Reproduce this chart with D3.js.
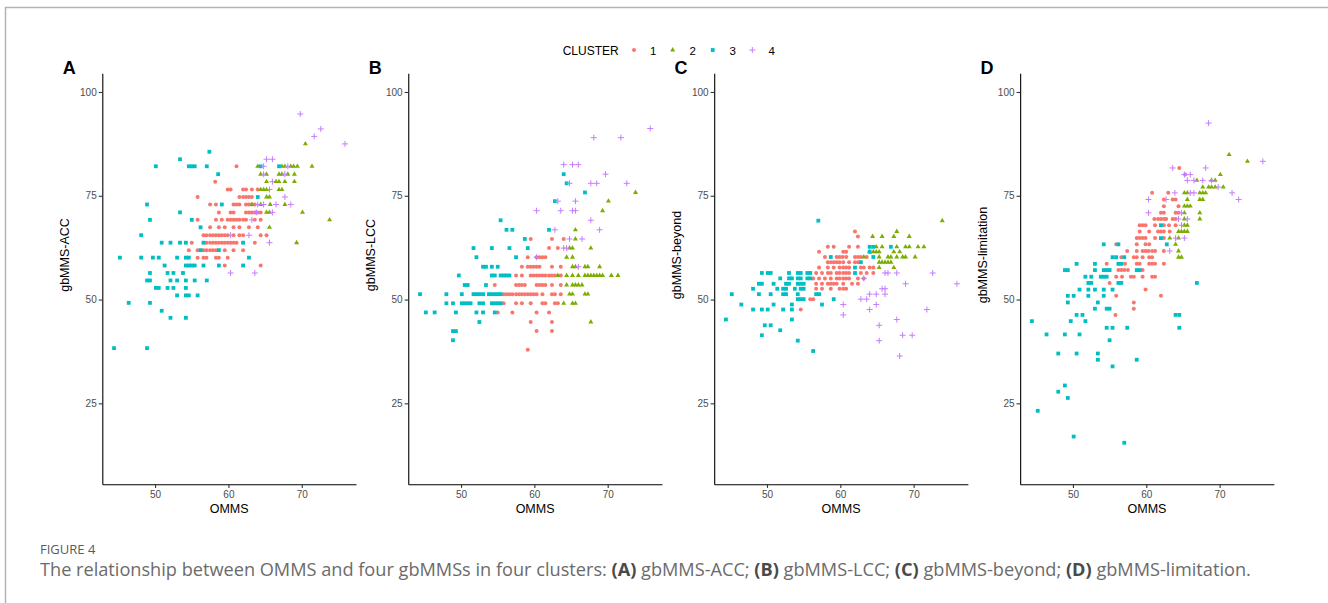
<!DOCTYPE html>
<html>
<head>
<meta charset="utf-8">
<script src="https://cdn.jsdelivr.net/npm/d3@7"></script>
<style>
  html, body { margin: 0; padding: 0; background: #fff; }
  svg { display: block; }
</style>
</head>
<body>
<svg id="chart" width="1328" height="603"></svg>
<script>
// ---------------- DATA (rows: [gbMMS value, [OMMS values...]]) ----------------
const clusters = ["1", "2", "3", "4"];
const clusterColors = ["#F8766D", "#7CAE00", "#00BFC4", "#C77CFF"];
const panelLetters = ["A", "B", "C", "D"];
const yTitles = ["gbMMS-ACC", "gbMMS-LCC", "gbMMS-beyond", "gbMMS-limitation"];
const xTicks = [50, 60, 70];
const yTicks = [25, 50, 75, 100];

// Panel A: gbMMS-ACC
const accC1 = [
  [82.1, [61.1]], [78.4, [58.2]],
  [76.5, [59.9, 60.3, 62.0, 62.4, 63.2, 64.0]],
  [74.7, [55.8, 61.5, 62.0, 62.4, 62.8, 63.2]],
  [72.9, [57.5, 58.3, 60.7, 61.1, 61.5, 62.4, 62.8, 63.2, 63.6]],
  [71.0, [58.7, 60.3, 60.7, 62.4, 62.8, 63.2, 63.6, 64.0, 64.4]],
  [69.2, [55.8, 58.3, 59.1, 59.9, 60.3, 60.7, 61.1, 61.5, 62.0, 62.4, 63.6, 64.4]],
  [67.4, [57.5, 58.7, 59.5, 60.7, 61.5, 62.8, 64.0]],
  [65.5, [56.6, 57.0, 57.5, 57.9, 58.3, 58.7, 59.1, 59.5, 59.9, 60.7, 61.5, 62.0, 64.4, 65.2]],
  [63.7, [55.0, 57.0, 57.5, 57.9, 58.3, 58.7, 59.1, 59.5, 59.9, 60.3, 60.7, 61.1, 63.6]],
  [61.9, [54.6, 55.8, 56.6, 57.0, 57.5, 57.9, 58.3, 59.5, 60.7, 62.0]],
  [60.1, [55.8, 56.6, 57.0, 58.3, 58.7, 59.9]],
  [58.2, [59.5, 64.4]]
];
const accC2 = [
  [87.5, [70.5]],
  [82.1, [64.0, 67.3, 67.7, 68.5, 68.9, 69.4, 71.4]],
  [80.2, [64.4, 65.2, 66.9, 67.3, 68.1, 69.0]],
  [78.4, [65.2, 66.5, 66.9, 67.7, 69.0]],
  [76.5, [64.4, 64.8, 65.2, 66.9, 67.3]],
  [74.7, [65.2, 65.6]],
  [72.9, [63.2, 64.4, 65.7, 67.7]],
  [71.0, [65.2, 65.6, 70.1]],
  [69.2, [73.8]], [67.4, [65.6]], [63.7, [69.3]]
];
const accC3 = [
  [85.6, [57.4]], [83.8, [53.4]],
  [82.1, [50.1, 54.6, 55.0, 55.4, 57.05, 64.4, 66.9]],
  [80.2, [58.6]], [74.7, [64.0]], [72.9, [48.9, 59.1]], [71.0, [53.4]],
  [69.2, [49.3, 55.0]], [67.4, [56.2]], [65.5, [48.1]],
  [63.7, [50.9, 52.1, 53.4, 54.2, 56.6, 62.0]],
  [61.9, [56.2, 58.7]],
  [60.1, [45.2, 48.1, 49.7, 50.5, 53.0, 54.2, 54.6, 62.8]],
  [58.2, [51.3, 54.2, 54.6, 55.0, 55.4, 56.6, 58.7, 62.0]],
  [56.4, [49.3, 51.7, 52.5, 53.8]],
  [54.6, [48.9, 49.3, 52.1, 53.0, 54.2, 55.4, 57.05]],
  [52.8, [50.1, 50.5, 51.7, 52.5, 54.2]],
  [51.0, [53.0, 54.2, 54.6, 55.8]],
  [49.2, [46.4, 49.3]], [47.3, [50.9]], [45.6, [52.1, 54.2]], [38.3, [44.4, 48.9]]
];
const accC4 = [
  [94.7, [69.8]], [91.1, [72.6]], [89.3, [71.7]], [87.5, [75.9]],
  [83.8, [65.2, 66.0]], [82.1, [64.8, 68.1]], [80.2, [64.8, 67.7]],
  [78.4, [66.0]], [76.5, [65.6]], [74.7, [67.7]],
  [72.9, [64.0, 64.8, 66.5, 68.5]], [71.0, [63.8, 66.0]], [69.2, [63.2]],
  [65.5, [60.3, 62.8]], [63.7, [65.6]], [56.4, [60.3, 63.6]]
];

// Panel B: gbMMS-LCC
const lccC1 = [
  [64.6, [59.5, 62.4, 64.0]], [62.4, [62.0, 63.2]],
  [60.2, [59.1, 60.3, 60.7, 61.1, 61.5]],
  [57.9, [58.3, 59.1, 59.5, 59.9, 60.3, 60.7, 62.4, 63.6]],
  [55.8, [57.5, 58.3, 59.5, 59.9, 60.3, 60.7, 61.1, 61.5, 62.0, 62.4, 62.8, 63.6]],
  [53.5, [54.6, 57.5, 57.9, 58.3, 58.7, 60.3, 60.7, 61.1, 61.5, 62.4, 63.6]],
  [51.3, [55.8, 56.2, 56.6, 57.0, 57.5, 57.9, 58.3, 58.7, 59.1, 59.5, 59.9, 60.3, 61.1, 62.4, 62.8, 63.6]],
  [49.1, [55.8, 57.5, 58.3, 59.5, 61.1, 61.5, 62.8, 63.2]],
  [46.9, [55.0, 57.0, 60.3, 62.0]],
  [44.6, [59.5, 62.4]], [42.4, [60.3, 62.4]], [37.9, [59.1]]
];
const lccC2 = [
  [75.8, [73.8]], [73.7, [70.1]], [71.4, [69.3]], [66.8, [65.6]], [64.6, [65.6]],
  [62.4, [64.8, 65.2, 67.7]], [60.2, [64.4, 65.2]],
  [57.9, [65.2, 65.6, 66.9, 67.3, 68.9]],
  [55.8, [63.2, 64.4, 65.2, 66.0, 66.9, 67.3, 67.7, 68.1, 68.5, 68.9, 69.3, 70.5, 71.4]],
  [53.5, [64.4, 65.2, 65.6, 66.0, 66.5]],
  [51.3, [64.8, 65.2, 66.9, 67.3]],
  [49.1, [64.0, 65.2, 65.6]], [44.6, [67.7]]
];
const lccC3 = [
  [80.2, [64.0]], [78.0, [64.4]], [75.8, [66.9]], [73.7, [62.8]], [69.1, [55.4]],
  [66.8, [56.2, 57.0, 62.0]], [64.6, [58.7]],
  [62.4, [51.7, 54.2, 56.6, 59.1]], [60.2, [52.1, 57.5]],
  [57.9, [53.0, 53.4, 54.2, 55.0]],
  [55.8, [49.7, 54.2, 54.6, 55.4, 55.8, 56.2, 56.6]],
  [53.5, [50.5, 50.9, 53.4]],
  [51.3, [44.4, 48.0, 50.1, 51.7, 52.1, 52.5, 53.0, 53.8, 54.2, 54.6, 55.0, 55.4]],
  [49.1, [48.0, 48.9, 50.1, 50.5, 50.9, 51.3, 52.5, 53.0, 54.2, 54.6, 55.0, 55.4]],
  [46.9, [45.2, 46.4, 49.3, 52.1, 53.0, 54.6]],
  [44.6, [52.5]], [42.4, [48.9, 49.3]], [40.2, [48.9]]
];
const lccC4 = [
  [91.2, [75.8]], [89.0, [68.1, 71.8]], [82.5, [64.0, 65.2, 66.0]], [80.2, [69.7]],
  [78.0, [64.8, 67.7, 68.5, 72.6]], [73.7, [63.2, 65.6]],
  [71.4, [60.3, 63.6, 65.2, 65.6]], [69.1, [67.7]], [66.8, [62.8, 68.9]],
  [64.6, [64.8, 66.5]], [62.4, [64.0, 64.4]], [60.2, [60.3]], [57.9, [66.0]]
];

// Panel C: gbMMS-beyond
const beyC1 = [
  [66.4, [62.0]], [65.2, [62.4]],
  [62.7, [58.3, 59.1, 61.2, 62.4]], [61.5, [57.1, 60.4, 60.8]],
  [60.25, [57.9, 59.5, 59.9, 60.3, 60.8, 62.0, 62.4, 62.8, 63.6]],
  [59.0, [58.3, 58.7, 59.1, 59.5, 59.9, 60.4, 61.2, 62.0, 62.4]],
  [57.7, [57.1, 58.3, 59.1, 59.9, 60.4, 60.8, 61.2, 62.8, 63.2, 64.0, 64.5]],
  [56.4, [56.7, 57.5, 58.3, 58.7, 59.5, 59.9, 60.4, 60.8, 61.2, 62.8, 63.6, 64.5]],
  [55.1, [56.3, 57.1, 57.9, 58.7, 59.5, 59.9, 60.4, 60.8, 61.2, 62.4, 63.2]],
  [53.8, [56.7, 57.5, 58.3, 58.7, 59.1, 59.5, 60.4, 61.6, 62.4]],
  [52.6, [56.7, 57.5, 58.7, 59.9, 60.4, 60.8]],
  [50.1, [55.9, 56.3]], [47.6, [54.6]]
];
const beyC2 = [
  [69.0, [73.9]], [66.4, [67.7]], [65.2, [64.4, 65.7, 67.3, 69.4]],
  [62.7, [64.9, 65.7, 67.7, 68.9, 69.4, 70.6, 71.4]],
  [61.5, [64.0, 64.5, 64.9, 65.3, 67.3, 68.1]],
  [60.25, [63.2, 65.3, 66.5, 66.9, 67.7, 68.5, 68.9, 70.2]],
  [59.0, [65.3, 65.7, 66.1, 66.5, 66.9]],
  [57.7, [65.3, 67.3]]
];
const beyC3 = [
  [69.0, [57.0]], [62.7, [64.0, 64.5, 66.9]], [61.5, [64.0]], [60.25, [58.7, 64.5]],
  [59.0, [62.8]], [57.7, [62.0]],
  [56.4, [49.3, 50.1, 50.5, 53.0, 54.2, 54.6, 55.5, 55.9, 62.0]],
  [55.1, [51.8, 53.0, 53.4, 54.2, 54.6, 55.5, 55.9]],
  [53.8, [48.9, 49.3, 50.9, 52.6, 53.0, 54.2, 54.6, 55.0]],
  [52.6, [48.1, 51.4, 52.2, 52.6, 53.8, 54.6, 55.0]],
  [51.3, [45.2, 48.9, 50.5, 52.2, 52.6, 54.2, 56.7, 57.1]],
  [50.1, [54.2, 54.6, 55.0, 59.1]],
  [48.8, [46.5, 50.9, 53.4, 57.5]],
  [47.6, [48.1, 49.3, 50.1, 52.2, 53.4]],
  [45.2, [44.4, 53.4]], [43.8, [49.7, 50.5]], [42.6, [51.8]], [41.4, [49.3]],
  [40.1, [54.2]], [37.6, [56.3]]
];
const beyC4 = [
  [56.4, [66.1, 66.5, 67.7, 72.6]], [55.1, [63.2]], [53.8, [68.9, 75.9]],
  [52.6, [65.7, 66.1]], [51.3, [64.0, 64.9, 66.1]], [50.1, [62.8, 63.6]],
  [48.8, [60.4, 64.9]], [47.6, [64.0, 71.8]], [46.3, [60.4]], [45.2, [67.7]],
  [43.8, [65.3]], [41.4, [68.5, 69.8]], [40.1, [65.3]], [36.4, [68.1]]
];

// Panel D: gbMMS-limitation
const limC1 = [
  [81.7, [64.5]], [80.1, [65.3]], [75.7, [60.8, 63.0]], [74.1, [62.4, 63.6, 64.0]],
  [72.5, [62.4, 64.4]], [70.9, [62.0, 62.4, 64.0, 64.4]],
  [69.4, [61.1, 61.6, 62.0, 62.4, 62.7, 63.6, 64.0]],
  [67.9, [59.1, 59.5, 59.9, 61.2, 62.4, 63.1, 64.0]],
  [66.4, [59.1, 60.4, 61.6, 62.0, 62.4, 63.2]],
  [64.8, [58.7, 59.1, 59.5, 59.9, 61.2, 62.4]],
  [63.3, [55.9, 58.7, 59.9, 60.4]],
  [61.7, [57.4, 58.7, 59.5, 59.9, 60.3, 60.8, 61.2, 62.4]],
  [60.2, [56.6, 58.3, 58.7, 59.5, 60.4, 60.8]],
  [58.6, [54.6, 57.1, 58.7, 59.1, 60.4, 60.8, 61.2, 62.4]],
  [57.1, [56.2, 56.6, 57.0, 57.5, 59.5]],
  [55.5, [55.9, 56.7, 57.9, 58.3, 59.5, 60.8, 61.2]],
  [54.0, [55.0]], [52.4, [59.9]], [50.9, [55.9, 62.0]], [49.3, [58.3]],
  [47.8, [58.3]], [46.3, [55.8]]
];
const limC2 = [
  [84.9, [71.3]], [83.3, [73.8]], [80.1, [70.1]], [78.7, [66.9, 68.9, 69.4]],
  [77.1, [67.7, 68.5, 68.9, 69.4, 70.5]],
  [75.7, [65.2, 65.6, 67.3, 67.7, 68.1]],
  [74.1, [65.6, 67.3, 67.7]], [72.5, [65.2, 65.6, 66.0]], [70.9, [65.2, 67.3]],
  [69.4, [65.2, 67.3]], [67.9, [65.2, 65.6]], [66.4, [64.4, 64.8, 65.2, 65.6]],
  [64.8, [63.2, 64.4]], [63.3, [64.0]], [61.7, [64.4]], [60.2, [64.4, 64.8]]
];
const limC3 = [
  [67.9, [62.0]], [64.8, [62.0]], [63.3, [54.2, 56.2, 62.8]], [60.2, [55.4, 55.9, 57.0]],
  [58.6, [50.5, 53.0, 56.2, 56.6]],
  [57.1, [48.9, 49.3, 53.0, 54.2, 54.6, 55.0, 58.7, 59.1]],
  [55.5, [51.7, 52.5, 53.8, 54.2, 54.6]],
  [54.0, [52.1, 52.5, 56.2, 56.6, 66.9]],
  [52.4, [50.9, 52.1, 53.0, 54.2, 55.4]],
  [50.9, [49.3, 50.1, 52.1, 54.2]], [49.3, [49.3, 53.4]], [47.8, [53.0, 54.6, 55.0]],
  [46.3, [50.5, 51.3, 64.0, 64.5]], [44.8, [44.4, 49.7, 51.7]],
  [43.2, [54.6, 55.4, 57.4, 64.5]], [41.6, [46.4, 48.9, 50.9]], [40.2, [55.0]],
  [37.0, [48.0, 50.5, 53.4]], [35.5, [53.4, 58.7]], [33.9, [55.4]], [29.3, [48.9]],
  [27.8, [48.0]], [26.3, [49.3]], [23.2, [45.2]], [17.0, [50.1]], [15.5, [57.0]]
];
const limC4 = [
  [92.5, [68.5]], [83.3, [75.9]], [81.7, [63.6, 68.1]], [80.1, [65.2, 66.0]],
  [78.7, [65.6, 66.5, 67.7, 68.9]], [77.1, [69.8]],
  [75.7, [63.9, 66.0, 66.5, 71.7]], [74.1, [60.3, 62.7, 72.6]],
  [70.9, [60.3, 64.8]], [69.4, [64.4, 65.6]], [67.9, [64.8]], [64.8, [64.0, 65.2]],
  [61.7, [63.2]]
];

const panelData = [
  [accC1, accC2, accC3, accC4],
  [lccC1, lccC2, lccC3, lccC4],
  [beyC1, beyC2, beyC3, beyC4],
  [limC1, limC2, limC3, limC4]
];

// ---------------- DRAWING ----------------
const svg = d3.select("#chart");
const FONT = "'Liberation Sans', Arial, Helvetica, sans-serif";

// figure frame (left and top rule)
svg.append("line").attr("x1", 5).attr("x2", 1328).attr("y1", 7.5).attr("y2", 7.5)
  .attr("stroke", "#b3b3b3").attr("stroke-width", 1.5);
svg.append("line").attr("x1", 5.5).attr("x2", 5.5).attr("y1", 7).attr("y2", 603)
  .attr("stroke", "#b3b3b3").attr("stroke-width", 1.5);

const panelW = 253.7, panelH = 411, panelTop = 73.3, panelStep = 305.95, firstLeft = 102.3;
const x = d3.scaleLinear().domain([42.8, 77.4]).range([0, panelW]);
const y = d3.scaleLinear().domain([5.5, 104.5]).range([panelH, 0]);

function drawMarker(sel, ci, cx, cy) {
  const col = clusterColors[ci];
  if (ci === 0) {
    sel.append("circle").attr("cx", cx).attr("cy", cy).attr("r", 2).attr("fill", col);
  } else if (ci === 1) {
    sel.append("path").attr("d", d3.symbol(d3.symbolTriangle, 11)())
      .attr("transform", `translate(${cx},${cy})`).attr("fill", col);
  } else if (ci === 2) {
    sel.append("rect").attr("x", cx - 1.9).attr("y", cy - 1.9).attr("width", 3.8).attr("height", 3.8)
      .attr("fill", col);
  } else {
    sel.append("path").attr("d", `M${cx - 3},${cy}H${cx + 3}M${cx},${cy - 3}V${cy + 3}`)
      .attr("stroke", col).attr("stroke-width", 1).attr("fill", "none");
  }
}

panelData.forEach((series, pi) => {
  const left = firstLeft + pi * panelStep;
  const g = svg.append("g").attr("transform", `translate(${left},${panelTop})`);

  // points
  const pts = g.append("g");
  series.forEach((rows, ci) => {
    rows.forEach(([yv, xs]) => {
      xs.forEach(xv => drawMarker(pts, ci, x(xv), y(yv)));
    });
  });

  // axes
  const yAxis = g.append("g").call(d3.axisLeft(y).tickValues(yTicks).tickSize(3.6).tickSizeOuter(0).tickPadding(2));
  const xAxis = g.append("g").attr("transform", `translate(0,${panelH})`)
    .call(d3.axisBottom(x).tickValues(xTicks).tickSize(3.6).tickSizeOuter(0).tickPadding(3));
  [yAxis, xAxis].forEach(a => {
    a.select(".domain").attr("stroke", "#000").attr("stroke-width", 1.1);
    a.selectAll(".tick line").attr("stroke", "#333").attr("stroke-width", 1.1);
    a.selectAll(".tick text").attr("fill", "#4d4d4d").style("font-size", "10px").style("font-family", FONT);
  });

  // titles
  g.append("text").attr("x", panelW / 2).attr("y", 513 - panelTop).attr("text-anchor", "middle")
    .style("font-family", FONT).style("font-size", "12.5px").attr("fill", "#000").text("OMMS");
  g.append("text").attr("transform", `translate(${68.8 - firstLeft},${255 - panelTop}) rotate(-90)`)
    .attr("text-anchor", "middle").style("font-family", FONT).style("font-size", "12.5px")
    .attr("fill", "#000").text(yTitles[pi]);
  svg.append("text").attr("x", 62.7 + pi * panelStep).attr("y", 74)
    .style("font-family", FONT).style("font-size", "18px").style("font-weight", "bold")
    .attr("fill", "#000").text(panelLetters[pi]);
});

// legend
const lg = svg.append("g");
lg.append("text").attr("x", 562.7).attr("y", 54.5).style("font-family", FONT).style("font-size", "12px")
  .attr("fill", "#000").text("CLUSTER");
const legendSymX = [634, 672.7, 712.7, 752.3];
const legendLabX = [653.3, 692.7, 732.7, 771.7];
clusters.forEach((c, i) => {
  drawMarker(lg, i, legendSymX[i], 50);
  lg.append("text").attr("x", legendLabX[i]).attr("y", 54.5).attr("text-anchor", "middle")
    .style("font-family", FONT).style("font-size", "11.5px").attr("fill", "#000").text(c);
});

// caption
const CAP = "'Open Sans', 'Noto Sans', sans-serif";
svg.append("text").attr("x", 40).attr("y", 553.5).style("font-family", CAP).style("font-size", "13px")
  .attr("fill", "#5b5b5b").text("FIGURE 4");
const capParts = [
  ["The relationship between OMMS and four gbMMSs in four clusters: ", false],
  ["(A)", true], [" gbMMS-ACC; ", false],
  ["(B)", true], [" gbMMS-LCC; ", false],
  ["(C)", true], [" gbMMS-beyond; ", false],
  ["(D)", true], [" gbMMS-limitation.", false]
];
const cap = svg.append("text").attr("x", 40).attr("y", 576).style("font-family", CAP)
  .style("font-size", "17px").attr("fill", "#6b6b6b");
capParts.forEach(([t, b]) => {
  cap.append("tspan").text(t).style("font-weight", b ? "bold" : "normal").attr("fill", b ? "#4a4a4a" : "#6b6b6b");
});
const w = cap.node().getComputedTextLength();
if (w > 0) cap.style("font-size", (17 * 1212 / w).toFixed(2) + "px");
</script>
</body>
</html>
